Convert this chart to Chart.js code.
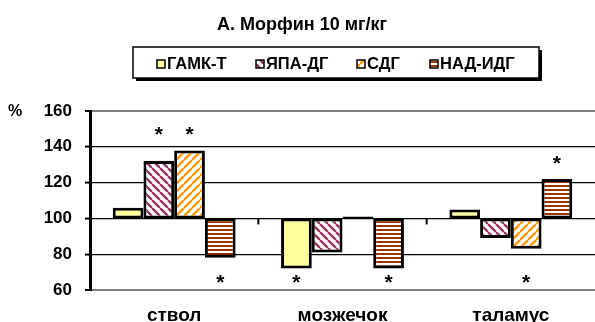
<!DOCTYPE html>
<html>
<head>
<meta charset="utf-8">
<script src="https://cdn.jsdelivr.net/npm/chart.js@4"></script>
<style>
  html, body { margin: 0; padding: 0; background: #fff; }
  #wrap { width: 595px; height: 322px; }
</style>
</head>
<body>
<div id="wrap"><canvas id="mChart"></canvas></div>
<script>
const categories = ['ствол', 'мозжечок', 'таламус'];
const seriesLabels = ['ГАМК-Т', 'ЯПА-ДГ', 'СДГ', 'НАД-ИДГ'];
const gamkT = [106, 72, 105];
const yapaDG = [132, 81, 89];
const sdg = [138, 101, 83];
const nadIDG = [78, 72, 122];
// * = significant difference
const starsGamkT = [false, true, false];
const starsYapaDG = [true, false, false];
const starsSdg = [true, false, true];
const starsNadIDG = [true, true, true];
const baseline = 100;
const yTicks = [60, 80, 100, 120, 140, 160];
const titleText = 'А. Морфин 10 мг/кг';

const FONT = '"Liberation Sans", Arial, sans-serif';

function pattern(bg, color, kind) {
  const c = document.createElement('canvas');
  c.width = c.height = 8;
  const g = c.getContext('2d');
  g.fillStyle = bg;
  g.fillRect(0, 0, 8, 8);
  g.fillStyle = color;
  g.strokeStyle = color;
  g.lineWidth = 2.3;
  if (kind === 'h') {
    g.fillRect(0, 1, 8, 2);
    g.fillRect(0, 5, 8, 2);
  } else {
    for (const o of [-8, 0, 8]) {
      g.beginPath();
      if (kind === 'back') { g.moveTo(o, 0); g.lineTo(o + 8, 8); }
      else { g.moveTo(o + 8, 0); g.lineTo(o, 8); }
      g.stroke();
    }
  }
  return g.createPattern(c, 'repeat');
}
const ctx0 = document.getElementById('mChart').getContext('2d');
const fills = [
  '#FFFF99',
  pattern('#fff', '#993366', 'back'),
  pattern('#fff', '#FF9900', 'fwd'),
  pattern('#fff', '#993300', 'h')
];
const values = [gamkT, yapaDG, sdg, nadIDG];
const stars = [starsGamkT, starsYapaDG, starsSdg, starsNadIDG];

const decorPlugin = {
  id: 'decor',
  afterDatasetsDraw(chart) {
    const c = chart.ctx, xs = chart.scales.x, ys = chart.scales.y;
    const y100 = ys.getPixelForValue(baseline);
    c.save();
    // category tick marks on the 100 line
    c.strokeStyle = '#000'; c.lineWidth = 2;
    for (let i = 1; i < categories.length; i++) {
      const x = (xs.getPixelForValue(i - 1) + xs.getPixelForValue(i)) / 2;
      c.beginPath(); c.moveTo(x, y100); c.lineTo(x, y100 + 6); c.stroke();
    }
    // asterisks
    c.fillStyle = '#000';
    c.font = 'bold 21px ' + FONT;
    c.textAlign = 'center'; c.textBaseline = 'alphabetic';
    for (let j = 0; j < categories.length; j++) {
      let topMost = y100;
      values.forEach((v, i) => {
        const b = chart.getDatasetMeta(i).data[j];
        topMost = Math.min(topMost, b.y);
      });
      values.forEach((v, i) => {
        if (!stars[i][j]) return;
        const b = chart.getDatasetMeta(i).data[j];
        const y = v[j] > baseline ? topMost - 21 : ys.getPixelForValue(67.5);
        c.fillText('*', b.x, y + 12);
      });
    }
    c.restore();
  },
  afterDraw(chart) {
    const c = chart.ctx;
    c.save();
    c.fillStyle = '#000';
    // title
    c.font = 'bold 18px ' + FONT;
    c.textAlign = 'center'; c.textBaseline = 'middle';
    c.fillText(titleText, 302, 25);
    // % label
    c.font = 'bold 16px ' + FONT;
    c.textAlign = 'left';
    c.fillText('%', 8, 112);
    // legend box
    c.fillStyle = '#000';
    c.fillRect(136, 50, 406, 31);
    c.fillStyle = '#fff';
    c.fillRect(133, 47, 406, 31);
    c.strokeStyle = '#000'; c.lineWidth = 1.5;
    c.strokeRect(133, 47, 406, 31);
    const xs = [157, 256, 357, 430];
    c.font = 'bold 16.5px ' + FONT;
    c.textBaseline = 'middle';
    seriesLabels.forEach((lab, i) => {
      c.fillStyle = fills[i];
      c.fillRect(xs[i], 60, 8, 8);
      c.strokeStyle = '#000'; c.lineWidth = 1.5;
      c.strokeRect(xs[i], 60, 8, 8);
      c.fillStyle = '#000';
      c.fillText(lab, xs[i] + 10, 64.5);
    });
    c.restore();
  }
};

new Chart(ctx0, {
  type: 'bar',
  data: {
    labels: categories,
    datasets: seriesLabels.map((lab, i) => ({
      label: lab,
      data: values[i].map(v => [baseline, v]),
      backgroundColor: fills[i],
      borderColor: '#000',
      borderWidth: 3,
      borderSkipped: false,
      barPercentage: 1,
      categoryPercentage: 0.73
    }))
  },
  options: {
    responsive: true,
    maintainAspectRatio: false,
    animation: false,
    layout: { padding: { top: 111, left: 0, right: 0, bottom: 0 } },
    plugins: { legend: { display: false }, title: { display: false }, tooltip: { enabled: false } },
    scales: {
      x: {
        grid: { display: false },
        border: { display: false },
        ticks: { color: '#000', font: { family: FONT, size: 19, weight: 'bold' }, padding: 6 },
        afterFit(s) { s.height = 32; }
      },
      y: {
        min: 60, max: 160,
        afterBuildTicks(s) { s.ticks = yTicks.map(v => ({ value: v })); },
        grid: {
          color: c => (c.tick && (c.tick.value === 60 || c.tick.value === 160)) ? '#808080' : '#000',
          lineWidth: c => (c.tick && (c.tick.value === 60 || c.tick.value === 160)) ? 2 : 1.2,
          tickColor: '#000', tickWidth: 2, tickLength: 5
        },
        border: { display: true, color: '#000', width: 3 },
        ticks: { color: '#000', font: { family: FONT, size: 17, weight: 'bold' }, padding: 13 },
        afterFit(s) { s.width = 90; }
      }
    }
  },
  plugins: [decorPlugin]
});
</script>
</body>
</html>
